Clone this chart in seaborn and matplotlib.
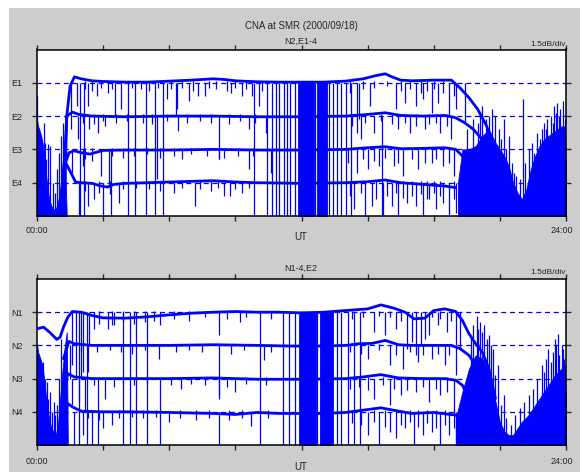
import numpy as np
import matplotlib
matplotlib.use("Agg")
import matplotlib.pyplot as plt
import seaborn as sns
from matplotlib.patches import Rectangle

# --- data (hours UT, value in divisions of 1.5 dB) ---

# top panel: N2 with E1..E4
e1_t = [1.25, 1.35, 1.5, 1.7, 2.0, 2.5, 3.0, 4.0, 5.0, 6.0, 7.0, 8.0, 8.5, 9.0, 10.0, 11.0, 12.0, 13.0, 14.0,
        14.8, 15.4, 15.8, 16.1, 16.5, 17.0, 18.0, 18.8, 19.2, 19.6, 20.0, 20.4, 20.8, 21.1]
e1_v = [0.5, 3.0, 3.9, 4.18, 4.12, 4.06, 4.04, 4.02, 4.02, 4.05, 4.08, 4.12, 4.1, 4.06, 4.03, 4.02, 4.02, 4.02, 4.05,
        4.12, 4.22, 4.27, 4.18, 4.08, 4.06, 4.08, 4.08, 3.84, 3.55, 3.2, 2.7, 2.0, 1.5]
e2_t = [1.2, 1.35, 1.6, 1.9, 2.5, 4.0, 6.0, 8.0, 10.0, 12.0, 14.0, 15.0, 15.8, 16.5, 17.5, 18.5, 19.0, 19.4, 19.8, 20.2]
e2_v = [1.0, 3.0, 3.12, 3.05, 3.0, 2.98, 3.0, 3.0, 2.98, 2.98, 3.0, 3.05, 3.1, 3.02, 3.0, 3.02, 2.95, 2.8, 2.6, 2.3]
e3_t = [1.3, 1.45, 1.7, 2.0, 2.4, 3.0, 4.0, 6.0, 8.0, 10.0, 12.0, 14.0, 15.0, 15.8, 16.5, 17.5, 18.5, 19.0, 19.3]
e3_v = [1.6, 1.9, 1.96, 1.9, 1.86, 1.97, 1.98, 1.98, 2.0, 1.98, 1.98, 2.0, 2.05, 2.08, 2.02, 2.03, 2.05, 2.0, 1.8]
e4_t = [1.3, 1.5, 1.75, 2.0, 2.5, 2.9, 3.2, 3.5, 4.0, 5.0, 6.0, 7.0, 8.0, 9.0, 10.0, 12.0, 14.0, 15.0, 15.8,
        16.5, 17.5, 18.5, 19.0]
e4_v = [1.6, 1.35, 1.02, 1.0, 0.98, 0.9, 0.87, 0.95, 0.98, 1.0, 1.02, 1.04, 1.06, 1.02, 1.0, 0.98, 1.0, 1.03, 1.08,
        1.0, 0.95, 0.9, 0.85]

# deep dips on each trace (time, lowest value)
e1_spk_t = [1.55, 1.8, 2.3, 2.7, 3.55, 3.8, 5.9, 6.3, 6.35, 6.9, 7.3, 7.6, 8.8, 9.3, 9.75, 10.05, 14.5, 14.6,
            15.1, 16.3, 16.7, 17.2, 17.5, 17.9, 18.2, 18.7, 19.0, 19.4]
e1_spk_lo = [2.6, 3.3, 3.3, 3.6, 3.0, 3.2, 3.5, 3.0, 3.2, 3.45, 3.6, 3.6, 3.7, 3.6, 3.6, 3.3, 2.5, 2.9,
             3.3, 3.2, 3.4, 3.3, 3.5, 3.1, 3.4, 3.0, 3.2, 2.8]
e2_spk_t = [1.85, 2.35, 2.75, 3.1, 5.45, 6.4, 8.25, 9.6, 10.4, 14.7, 15.3, 16.4, 16.9, 17.6, 18.3, 18.8]
e2_spk_lo = [2.3, 2.6, 2.5, 2.7, 1.1, 2.55, 1.7, 2.6, 2.5, 2.3, 2.5, 2.6, 2.5, 2.6, 2.5, 2.3]
e3_spk_t = [1.6, 2.1, 2.9, 3.25, 6.6, 8.25, 9.6, 10.6, 14.5, 15.0, 15.5, 16.2, 16.6, 17.3, 17.9, 18.4, 18.9]
e3_spk_lo = [1.3, 1.5, 1.2, 0.9, 1.7, 1.7, 1.4, 1.3, 1.3, 1.4, 1.5, 1.5, 1.2, 1.4, 1.6, 1.5, 1.2]
e4_spk_t = [1.9, 2.3, 2.6, 3.0, 3.7, 6.2, 7.15, 8.5, 8.75, 9.3, 14.4, 14.9, 15.2, 15.7, 16.1, 16.4, 16.8,
            17.2, 17.5, 17.8, 18.1, 18.4, 18.7, 19.0]
e4_spk_lo = [0.0, 0.3, 0.5, 0.0, 0.4, 0.7, 0.3, 0.6, 0.6, 0.7, 0.2, 0.0, 0.3, 0.0, 0.3, 0.0, 0.4,
             0.3, 0.0, 0.5, 0.2, 0.4, 0.0, 0.1]

# small flicker below each trace (time, lowest value)
e1_tick_t = [2.2, 2.5, 2.9, 3.2, 3.4, 4.3, 4.7, 5.1, 5.5, 6.1, 6.6, 7.1, 7.8, 8.1, 8.6, 9.0, 9.5, 10.2,
             14.2, 14.8, 15.3, 15.9, 16.5, 16.9, 17.4, 17.7, 18.0, 18.4, 18.9]
e1_tick_lo = [3.8, 3.75, 3.85, 3.7, 3.8, 3.85, 3.8, 3.75, 3.85, 3.8, 3.85, 3.75, 3.85, 3.8, 3.75, 3.85, 3.8, 3.75,
              3.7, 3.8, 3.85, 3.9, 3.75, 3.8, 3.7, 3.75, 3.8, 3.7, 3.6]
e2_tick_t = [2.1, 2.6, 3.0, 3.6, 4.1, 4.8, 5.2, 5.9, 6.8, 7.4, 7.9, 8.7, 9.2, 9.9, 14.3, 14.9, 15.6, 16.1,
             16.7, 17.2, 17.8, 18.1, 18.6]
e2_tick_lo = [2.8, 2.75, 2.85, 2.8, 2.85, 2.8, 2.75, 2.85, 2.8, 2.85, 2.8, 2.75, 2.85, 2.8, 2.7, 2.8, 2.85, 2.75,
              2.8, 2.7, 2.75, 2.8, 2.7]
e3_tick_t = [2.2, 2.5, 3.4, 3.9, 4.4, 5.0, 5.6, 6.2, 7.0, 7.7, 8.5, 9.1, 9.8, 14.1, 14.8, 15.3, 15.8, 16.4,
             17.0, 17.6, 18.1, 18.7]
e3_tick_lo = [1.7, 1.65, 1.8, 1.75, 1.8, 1.85, 1.75, 1.8, 1.85, 1.8, 1.75, 1.8, 1.8, 1.6, 1.7, 1.65, 1.75, 1.6,
              1.7, 1.6, 1.7, 1.6]
e4_tick_t = [2.2, 2.8, 3.3, 3.9, 4.5, 5.1, 5.6, 6.6, 7.4, 7.9, 8.2, 9.0, 9.6, 14.2, 14.7, 15.4, 15.9, 16.3,
             16.6, 17.0, 17.4, 17.7, 18.0, 18.3, 18.9]
e4_tick_lo = [0.75, 0.7, 0.65, 0.8, 0.85, 0.8, 0.75, 0.85, 0.8, 0.75, 0.85, 0.8, 0.85, 0.6, 0.7, 0.5, 0.6, 0.7,
              0.55, 0.6, 0.65, 0.5, 0.7, 0.6, 0.5]

# drops that run down to the floor (time, value they start from)
top_drop_t = [1.95, 2.15, 3.35, 4.15, 4.45, 4.95, 5.35, 5.7, 9.85, 10.45, 10.65, 10.85, 11.0, 11.2, 11.35,
              11.5, 11.7, 12.62, 13.25, 13.45, 13.6, 13.8, 14.0, 14.25, 15.65]
top_drop_hi = [4.0, 4.0, 2.0, 4.0, 4.0, 4.0, 4.0, 4.0, 4.0, 4.0, 4.0, 4.0, 4.0, 4.0, 4.0,
               4.0, 4.0, 4.0, 4.0, 4.0, 4.0, 4.0, 4.0, 4.0, 3.0]
# bursts of noise rising from the floor (time, highest value)
top_burst_t = [0.0, 0.1, 0.2, 0.3, 0.35, 0.42, 0.5, 0.6, 0.72, 0.8, 0.9, 1.0, 1.1, 1.2,
               19.5, 19.8, 20.0, 20.1, 20.2, 20.35, 20.5, 20.65, 20.8, 20.95, 21.05, 21.2, 21.3, 21.4, 21.55,
               21.65, 21.75, 21.9, 22.05, 22.15, 22.3, 22.45, 22.55, 22.7, 22.8, 22.9, 23.0, 23.1, 23.15,
               23.3, 23.4, 23.45, 23.55, 23.6, 23.7, 23.75, 23.85, 23.9, 23.95]
top_burst_hi = [3.6, 2.6, 2.4, 2.8, 2.2, 1.7, 2.15, 2.1, 1.0, 0.7, 1.4, 1.9, 2.4, 2.8,
                2.6, 2.9, 2.8, 3.1, 3.3, 2.9, 3.0, 3.2, 3.0, 2.6, 2.3, 2.9, 2.0, 2.4, 1.6,
                1.3, 1.2, 1.1, 3.5, 1.6, 2.0, 2.2, 1.9, 2.5, 2.3, 2.6, 2.8, 2.6, 2.9,
                3.0, 2.8, 3.3, 3.1, 3.4, 3.0, 3.2, 3.45, 2.7, 2.9]
# solid noisy blocks (upper envelope)
top_early_t = [0.0, 0.05, 0.15, 0.25, 0.35, 0.45, 0.55, 0.65, 0.75, 0.85, 0.95, 1.05, 1.15, 1.25, 1.35]
top_early_v = [2.9, 2.7, 2.5, 2.2, 1.6, 1.0, 0.5, 0.3, 0.2, 0.2, 0.4, 0.8, 1.5, 2.2, 0.0]
top_mid_t = [11.85, 12.55, 12.7, 13.15]
top_mid_v = [4.0, 4.0, 4.05, 4.05]
top_late_t = [19.1, 19.3, 19.6, 19.9, 20.2, 20.5, 20.8, 21.0, 21.2, 21.4, 21.6, 21.8, 22.0, 22.2, 22.4, 22.6,
              22.8, 23.0, 23.2, 23.4, 23.6, 23.8, 23.95, 24.0]
top_late_v = [1.0, 2.0, 2.0, 2.1, 2.4, 2.6, 2.2, 2.0, 1.8, 1.5, 1.0, 0.7, 0.5, 0.8, 1.4, 1.8,
              2.1, 2.3, 2.4, 2.5, 2.6, 2.7, 2.5, 1.5]

# bottom panel: E2 with N1..N4
n1_t = [0.0, 0.3, 0.6, 0.9, 1.05, 1.2, 1.4, 1.6, 2.0, 2.5, 3.0, 4.0, 5.0, 6.0, 7.0, 8.0, 9.0, 10.0, 11.0,
        12.0, 13.0, 14.0, 15.0, 15.6, 16.2, 16.7, 17.1, 17.6, 18.0, 18.5, 19.0, 19.3, 19.6, 19.9, 20.2,
        20.5, 20.8]
n1_v = [3.5, 3.55, 3.38, 3.18, 3.25, 3.55, 3.85, 4.02, 4.0, 3.9, 3.83, 3.82, 3.86, 3.92, 3.97, 4.0, 4.02, 4.0, 4.0,
        3.98, 4.0, 4.05, 4.1, 4.22, 4.12, 4.0, 3.8, 3.82, 4.05, 4.1, 4.02, 3.75, 3.35, 3.05, 2.8,
        2.3, 1.4]
n2_t = [1.2, 1.45, 1.7, 2.5, 4.0, 6.0, 8.0, 10.0, 11.5, 13.0, 14.0, 14.6, 15.2, 15.8, 16.4, 17.0, 18.0, 18.8,
        19.2, 19.6, 19.9, 20.2]
n2_v = [2.6, 3.12, 3.05, 3.0, 3.0, 3.0, 3.02, 3.0, 2.98, 2.98, 3.0, 3.05, 3.06, 3.15, 3.02, 3.0, 3.0, 3.0,
        2.9, 2.7, 2.4, 2.0]
n3_t = [1.2, 1.4, 1.7, 2.5, 4.0, 6.0, 8.0, 10.0, 12.0, 14.0, 14.8, 15.6, 16.4, 17.5, 18.5, 19.0, 19.3, 19.6]
n3_v = [1.6, 2.15, 2.05, 2.0, 2.0, 2.0, 2.02, 1.98, 1.98, 2.0, 2.05, 2.12, 2.02, 2.0, 2.0, 1.95, 1.8, 1.4]
n4_t = [1.2, 1.4, 1.6, 2.0, 3.0, 4.0, 6.0, 8.0, 9.0, 10.0, 11.0, 12.0, 13.0, 14.0, 14.8, 15.6, 16.4, 17.0,
        18.0, 19.0, 19.3]
n4_v = [0.7, 1.25, 1.15, 1.02, 1.0, 1.0, 0.98, 0.95, 0.92, 0.98, 0.95, 0.95, 0.95, 0.98, 1.05, 1.12, 1.02, 0.95,
        0.98, 0.9, 0.6]

n1_spk_t = [1.6, 1.75, 2.0, 2.1, 2.35, 2.6, 3.2, 3.5, 5.6, 8.25, 9.2, 15.3, 15.8, 16.3, 16.8, 17.0, 17.2,
            17.4, 17.6, 17.8, 18.2, 18.6, 19.0, 19.2]
n1_spk_lo = [2.4, 2.0, 2.8, 2.2, 3.0, 3.5, 3.5, 3.6, 3.6, 3.3, 3.7, 3.4, 3.3, 3.5, 2.9, 3.1, 2.7,
             3.0, 3.2, 3.3, 3.6, 3.4, 3.0, 2.9]
n2_spk_t = [1.5, 2.0, 2.3, 5.55, 8.25, 10.3, 15.0, 16.0, 16.6, 17.3, 17.9, 18.5, 19.0]
n2_spk_lo = [2.0, 2.0, 2.2, 2.6, 1.5, 2.55, 2.6, 2.4, 2.3, 2.5, 2.6, 2.4, 2.1]
n3_spk_t = [1.6, 1.9, 2.2, 3.1, 5.6, 6.55, 8.25, 9.0, 15.3, 16.0, 16.5, 17.2, 17.8, 18.3, 18.9]
n3_spk_lo = [1.2, 1.3, 1.0, 1.4, 0.0, 1.7, 1.4, 1.6, 1.4, 1.2, 1.5, 1.6, 1.3, 1.5, 1.0]
n4_spk_t = [1.7, 2.1, 2.5, 3.0, 3.4, 6.0, 8.25, 9.7, 15.0, 15.5, 16.0, 16.3, 16.7, 17.1, 17.5, 17.9, 18.3,
            18.7, 19.0]
n4_spk_lo = [0.0, 0.3, 0.0, 0.5, 0.6, 0.7, 0.0, 0.58, 0.3, 0.0, 0.4, 0.2, 0.5, 0.0, 0.3, 0.4, 0.0,
             0.3, 0.1]

n1_tick_t = [2.8, 3.4, 3.9, 4.4, 4.9, 5.3, 6.2, 6.9, 7.6, 8.6, 9.5, 10.6, 14.3, 14.8, 15.5, 16.0, 16.5,
             17.9, 18.3, 18.8]
n1_tick_lo = [3.65, 3.6, 3.7, 3.65, 3.7, 3.75, 3.8, 3.75, 3.85, 3.8, 3.85, 3.8, 3.8, 3.85, 3.9, 3.85, 3.75,
              3.85, 3.8, 3.75]
n2_tick_t = [2.7, 3.3, 3.8, 4.3, 4.9, 6.3, 6.9, 7.5, 8.8, 9.4, 10.6, 14.2, 14.7, 15.5, 16.3, 16.9, 17.5,
             18.2, 18.7]
n2_tick_lo = [2.8, 2.85, 2.8, 2.75, 2.85, 2.8, 2.85, 2.8, 2.75, 2.85, 2.8, 2.8, 2.75, 2.85, 2.7, 2.8, 2.7,
              2.75, 2.7]
n3_tick_t = [2.6, 3.5, 3.9, 4.4, 5.0, 6.1, 7.0, 7.6, 8.6, 9.5, 10.4, 14.2, 14.6, 15.0, 15.7, 16.2, 16.8,
             17.5, 18.1, 18.6]
n3_tick_lo = [1.8, 1.75, 1.85, 1.8, 1.85, 1.8, 1.85, 1.8, 1.75, 1.85, 1.8, 1.7, 1.75, 1.65, 1.8, 1.7, 1.65,
              1.75, 1.7, 1.6]
n4_tick_t = [2.3, 2.8, 3.7, 4.3, 4.8, 5.4, 6.5, 7.2, 7.8, 8.7, 9.3, 10.5, 14.3, 14.7, 15.3, 15.8, 16.5,
             16.9, 17.3, 17.7, 18.1, 18.5, 18.9]
n4_tick_lo = [0.8, 0.75, 0.8, 0.85, 0.8, 0.85, 0.8, 0.75, 0.8, 0.75, 0.8, 0.8, 0.65, 0.6, 0.7, 0.55, 0.6,
              0.7, 0.55, 0.65, 0.5, 0.6, 0.5]

bot_drop_t = [1.92, 2.25, 2.77, 3.9, 4.2, 4.5, 5.0, 10.1, 11.18, 11.45, 11.7, 12.72, 13.6, 13.8, 14.1,
              14.4, 14.65]
bot_drop_hi = [4.0, 4.0, 2.0, 4.0, 4.0, 4.0, 4.0, 4.0, 4.0, 4.0, 4.0, 4.0, 4.0, 4.0, 4.0,
               4.0, 4.0]
bot_burst_t = [0.0, 0.12, 0.2, 0.25, 0.35, 0.45, 0.52, 0.6, 0.68, 0.75, 0.82, 0.9, 1.0, 1.1,
               19.7, 19.8, 19.95, 20.0, 20.1, 20.2, 20.3, 20.4, 20.5, 20.6, 20.7, 20.8, 20.9, 21.05, 21.2,
               21.3, 21.5, 21.7, 21.9, 22.1, 22.3, 22.5, 22.7, 22.9, 23.0, 23.1, 23.2, 23.3, 23.4, 23.5,
               23.55, 23.65, 23.7, 23.8, 23.85, 23.9, 23.95]
bot_burst_hi = [3.05, 2.6, 2.2, 2.5, 2.0, 1.9, 1.4, 1.6, 1.0, 1.3, 0.9, 1.2, 2.0, 3.2,
                3.3, 3.6, 3.9, 3.5, 3.7, 3.4, 3.6, 3.2, 3.3, 3.0, 2.9, 2.1, 2.4, 1.2, 1.5,
                0.8, 0.6, 0.9, 1.1, 1.3, 1.5, 1.7, 2.0, 2.4, 2.2, 2.6, 2.9, 2.5, 2.8, 3.2,
                3.0, 3.35, 2.7, 3.0, 2.9, 2.6, 2.4]
bot_early_t = [0.0, 0.05, 0.15, 0.25, 0.35, 0.45, 0.55, 0.65, 0.75, 0.85, 0.95, 1.05, 1.15, 1.25, 1.35, 1.4]
bot_early_v = [3.0, 2.8, 2.6, 2.4, 1.8, 1.2, 0.8, 0.5, 0.4, 0.3, 0.6, 1.4, 2.2, 2.9, 3.4, 0.0]
bot_mid_t = [11.9, 12.65, 12.85, 13.45]
bot_mid_v = [4.0, 4.0, 4.02, 4.02]
bot_late_t = [19.0, 19.3, 19.6, 19.9, 20.2, 20.5, 20.8, 21.0, 21.2, 21.4, 21.6, 21.8, 22.0, 22.3, 22.6, 22.9,
              23.2, 23.5, 23.8, 23.95, 24.0]
bot_late_v = [0.8, 1.6, 2.3, 2.7, 2.6, 2.2, 1.3, 0.7, 0.4, 0.3, 0.3, 0.5, 0.7, 0.9, 1.2, 1.5,
              1.8, 2.1, 2.3, 2.4, 1.4]

top_labels = ['E4', 'E3', 'E2', 'E1']
bot_labels = ['N4', 'N3', 'N2', 'N1']

BLUE = '#0000ff'

sns.set_style('ticks')
plt.rcParams['font.family'] = ['Liberation Sans', 'DejaVu Sans']

fig = plt.figure(figsize=(5.8, 4.72), dpi=100)
fig.patch.set_facecolor('white')
fig.patches.append(Rectangle((9 / 580, 0), 1, 1 - 8 / 472, transform=fig.transFigure,
                             facecolor='#cdcdcd', edgecolor='none', zorder=-10))

W, H = 580, 472


def px(x, y):
    return x / W, 1 - y / H


def draw_panel(ax, traces, spikes, ticks, drop_t, drop_hi, burst_t, burst_hi, blocks, labels):
    for lvl in [1, 2, 3, 4]:
        ax.axhline(lvl, color=BLUE, lw=0.9, ls=(0, (4, 3)), zorder=1)
    for bt, bv in blocks:
        ax.fill_between(bt, 0, bv, color=BLUE, lw=0.6, zorder=2)
    ax.vlines(drop_t, 0, drop_hi, color=BLUE, lw=0.9, zorder=2)
    ax.vlines(burst_t, 0, burst_hi, color=BLUE, lw=0.9, zorder=2)
    for lvl, (st, slo) in zip([4, 3, 2, 1], spikes):
        ax.vlines(st, slo, lvl, color=BLUE, lw=0.9, zorder=3)
    for lvl, (st, slo) in zip([4, 3, 2, 1], ticks):
        ax.vlines(st, slo, lvl + 0.05, color=BLUE, lw=0.9, zorder=3)
    for tt, vv in traces:
        sns.lineplot(x=tt, y=vv, ax=ax, color=BLUE, lw=2.0, sort=False, zorder=4)
    ax.set_xlim(0, 24)
    ax.set_ylim(0, 5)
    ax.set_facecolor('white')
    ax.set_xticks([0, 3, 6, 9, 12, 15, 18, 21, 24])
    ax.set_xticklabels([])
    ax.set_yticks([1, 2, 3, 4])
    ax.set_yticklabels(labels, fontsize=6.5)
    ax.tick_params(axis='x', which='both', direction='out', top=True, bottom=True, length=3.5, width=1)
    ax.tick_params(axis='y', which='both', direction='out', left=True, right=True, length=3.5, width=1, pad=7)
    ax.set_xlabel('')
    ax.set_ylabel('')
    for s in ax.spines.values():
        s.set_visible(True)
        s.set_color('black')
        s.set_linewidth(1.1)


ax1 = fig.add_axes([37 / W, 1 - 216 / H, 529 / W, 166.5 / H])
ax2 = fig.add_axes([37 / W, 1 - 445 / H, 529 / W, 166 / H])

draw_panel(ax1,
           [(e1_t, e1_v), (e2_t, e2_v), (e3_t, e3_v), (e4_t, e4_v)],
           [(e1_spk_t, e1_spk_lo), (e2_spk_t, e2_spk_lo), (e3_spk_t, e3_spk_lo), (e4_spk_t, e4_spk_lo)],
           [(e1_tick_t, e1_tick_lo), (e2_tick_t, e2_tick_lo), (e3_tick_t, e3_tick_lo), (e4_tick_t, e4_tick_lo)],
           top_drop_t, top_drop_hi, top_burst_t, top_burst_hi,
           [(top_early_t, top_early_v), (top_mid_t[:2], top_mid_v[:2]), (top_mid_t[2:], top_mid_v[2:]),
            (top_late_t, top_late_v)],
           top_labels)
draw_panel(ax2,
           [(n1_t, n1_v), (n2_t, n2_v), (n3_t, n3_v), (n4_t, n4_v)],
           [(n1_spk_t, n1_spk_lo), (n2_spk_t, n2_spk_lo), (n3_spk_t, n3_spk_lo), (n4_spk_t, n4_spk_lo)],
           [(n1_tick_t, n1_tick_lo), (n2_tick_t, n2_tick_lo), (n3_tick_t, n3_tick_lo), (n4_tick_t, n4_tick_lo)],
           bot_drop_t, bot_drop_hi, bot_burst_t, bot_burst_hi,
           [(bot_early_t, bot_early_v), (bot_mid_t[:2], bot_mid_v[:2]), (bot_mid_t[2:], bot_mid_v[2:]),
            (bot_late_t, bot_late_v)],
           bot_labels)

# texts
fig.text(*px(301, 26), 'CNA at SMR (2000/09/18)', ha='center', va='center', fontsize=7)
fig.text(*px(301, 41), 'N2,E1-4', ha='center', va='center', fontsize=6.5)
fig.text(*px(566, 45), '1.5dB/div', ha='right', va='center', fontsize=6)
fig.text(*px(37, 231), '00:00', ha='center', va='center', fontsize=6.5)
fig.text(*px(562, 231), '24:00', ha='center', va='center', fontsize=6.5)
fig.text(*px(301, 237), 'UT', ha='center', va='center', fontsize=7)

fig.text(*px(301, 268), 'N1-4,E2', ha='center', va='center', fontsize=6.5)
fig.text(*px(566, 273), '1.5dB/div', ha='right', va='center', fontsize=6)
fig.text(*px(37, 462), '00:00', ha='center', va='center', fontsize=6.5)
fig.text(*px(562, 462), '24:00', ha='center', va='center', fontsize=6.5)
fig.text(*px(301, 467), 'UT', ha='center', va='center', fontsize=7)

fig.savefig('out.png', dpi=100)
